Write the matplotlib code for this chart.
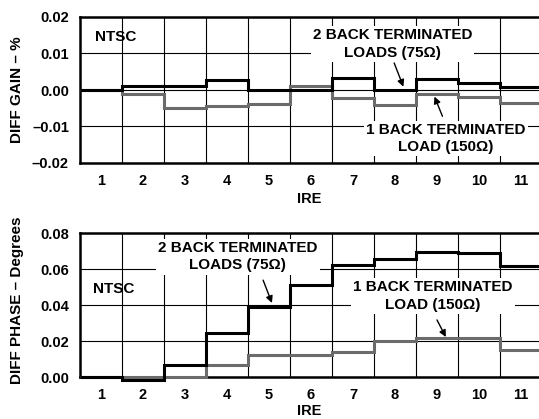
import numpy as np
import matplotlib
matplotlib.use("Agg")
import matplotlib.pyplot as plt

plt.rcParams['font.family'] = ['Liberation Sans', 'DejaVu Sans']
plt.rcParams['font.weight'] = 'bold'

# IRE steps 1..11
ire = [1, 2, 3, 4, 5, 6, 7, 8, 9, 10, 11]

# differential gain, %
gain_2loads = [0.0, 0.001, 0.001, 0.0027, 0.0, 0.0, 0.0034, 0.0, 0.0031, 0.002, 0.0007]
gain_1load = [0.0, -0.0012, -0.005, -0.0044, -0.0039, 0.001, -0.0021, -0.0042, -0.001, -0.0019, -0.0035]

# differential phase, degrees
phase_2loads = [0.0, -0.0018, 0.0065, 0.0245, 0.039, 0.051, 0.0625, 0.0655, 0.0697, 0.069, 0.0618]
phase_1load = [0.0, 0.0, 0.0, 0.0065, 0.012, 0.012, 0.014, 0.020, 0.0214, 0.0214, 0.015]

gray = '#6b6b6b'
W, H = 539, 419
fig = plt.figure(figsize=(W / 100, H / 100), dpi=100)

def px_axes(x0, y0, x1, y1):
    return fig.add_axes([x0 / W, 1 - y1 / H, (x1 - x0) / W, (y1 - y0) / H])

def setup(ax, ylim, yticks, fmt):
    edges = np.arange(len(ire) + 1) + 0.5
    ax.set_xlim(0.5, 0.5 + (539 - 80) / 42.0)
    ax.set_ylim(*ylim)
    ax.set_xticks(ire)
    ax.set_xticks(edges[1:-1], minor=True)
    ax.set_yticks(yticks)
    ax.set_yticklabels([fmt(v) for v in yticks])
    ax.tick_params(which='both', length=0, labelsize=10.5, colors='black')
    ax.tick_params(axis='x', pad=8)
    ax.tick_params(axis='y', pad=8)
    ax.set_axisbelow(True)
    ax.grid(True, axis='x', which='minor', color='black', lw=0.8)
    ax.grid(True, axis='y', which='major', color='black', lw=0.8)
    ax.grid(False, axis='x', which='major')
    for s in ['left', 'top', 'bottom']:
        ax.spines[s].set_linewidth(1.8)
    ax.spines['right'].set_visible(False)
    for lab in ax.get_xticklabels() + ax.get_yticklabels():
        lab.set_fontweight('bold')
    return edges

def fmt_val(v):
    s = '%.2f' % v
    return s.replace('-', '\u2013') if v < 0 else s

def label(ax, x, y, txt):
    ax.text(x, y, txt, ha='center', va='center', fontsize=11, fontweight='bold',
            linespacing=1.3, zorder=1.5,
            bbox=dict(facecolor='white', edgecolor='none', pad=1.5))

def arrow(ax, tail, head):
    ax.annotate('', xy=head, xytext=tail, zorder=5,
                arrowprops=dict(arrowstyle='-|>', color='black', lw=1.0,
                                mutation_scale=10, shrinkA=0, shrinkB=0))

# top: differential gain
ax1 = px_axes(80, 17, 539, 163)
e = setup(ax1, (-0.02, 0.02), [-0.02, -0.01, 0.0, 0.01, 0.02], fmt_val)
ax1.stairs(gain_1load, e, baseline=None, color=gray, lw=2.2, zorder=3, clip_on=False)
ax1.stairs(gain_2loads, e, baseline=None, color='black', lw=2.2, zorder=4, clip_on=False)
ax1.text(0.86, 0.0145, 'NTSC', fontsize=11, fontweight='bold', va='center', ha='left')
label(ax1, 7.94, 0.0126, '2 BACK TERMINATED\nLOADS (75\u03a9)')
label(ax1, 9.21, -0.0133, '1 BACK TERMINATED\nLOAD (150\u03a9)')
arrow(ax1, (7.98, 0.0074), (8.2, 0.0009))
arrow(ax1, (9.13, -0.0072), (8.94, -0.0018))
ax1.set_xlabel('IRE', fontsize=10.5, fontweight='bold', labelpad=3)

# bottom: differential phase
ax2 = px_axes(80, 233, 539, 377)
e = setup(ax2, (0.0, 0.08), [0.0, 0.02, 0.04, 0.06, 0.08], fmt_val)
ax2.stairs(phase_1load, e, baseline=None, color=gray, lw=2.2, zorder=3, clip_on=False)
ax2.stairs(phase_2loads, e, baseline=None, color='black', lw=2.2, zorder=4, clip_on=False)
ax2.text(0.81, 0.0489, 'NTSC', fontsize=11, fontweight='bold', va='center', ha='left')
label(ax2, 4.26, 0.0668, '2 BACK TERMINATED\nLOADS (75\u03a9)')
label(ax2, 8.9, 0.045, '1 BACK TERMINATED\nLOAD (150\u03a9)')
arrow(ax2, (4.86, 0.0538), (5.07, 0.0411))
arrow(ax2, (9.0, 0.0317), (9.21, 0.0222))
ax2.set_xlabel('IRE', fontsize=10.5, fontweight='bold', labelpad=1)

fig.text(17 / W, 1 - 90 / H, 'DIFF GAIN \u2013 %', rotation=90, ha='center', va='center',
         fontsize=11, fontweight='bold')
fig.text(17 / W, 1 - 300 / H, 'DIFF PHASE \u2013 Degrees', rotation=90, ha='center', va='center',
         fontsize=11, fontweight='bold')

fig.savefig('out.png', dpi=100)
